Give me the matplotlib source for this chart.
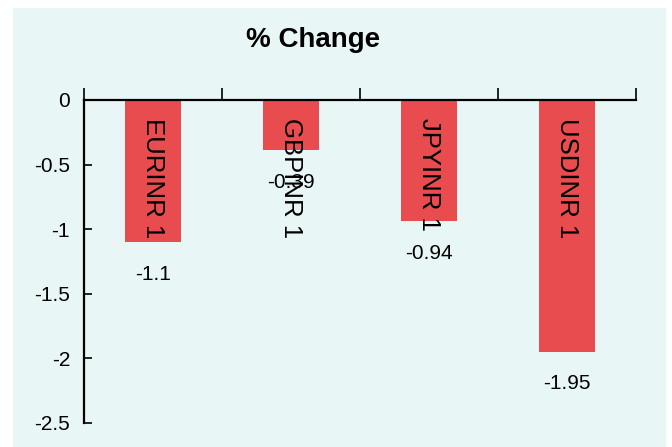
import matplotlib
matplotlib.use("Agg")
import matplotlib.pyplot as plt
from matplotlib.patches import Rectangle

# datos
pares = ["EURINR 1", "GBPINR 1", "JPYINR 1", "USDINR 1"]
cambios = [-1.1, -0.39, -0.94, -1.95]
etiquetas_valor = ["-1.1", "-0.39", "-0.94", "-1.95"]
yticks = [0, -0.5, -1, -1.5, -2, -2.5]
ytick_labels = ["0", "-0.5", "-1", "-1.5", "-2", "-2.5"]

plt.rcParams["font.family"] = ["Liberation Sans", "DejaVu Sans"]

fondo = "#E8F7F6"
rojo = "#E84C4E"

fig = plt.figure(figsize=(6.72, 4.47), dpi=100, facecolor="white")
# panel de fondo (deja un borde blanco a la izquierda, arriba y a la derecha)
fig.patches.append(Rectangle((13 / 672, 0), (666 - 13) / 672, 1 - 8 / 447,
                             transform=fig.transFigure, facecolor=fondo,
                             edgecolor="none", zorder=-1))

ax = fig.add_axes([84 / 672, 1 - 423 / 447, (636 - 84) / 672, (423 - 100) / 447])
ax.patch.set_alpha(0)

x = list(range(len(pares)))
ax.bar(x, cambios, width=0.41, color=rojo, zorder=2)

ax.set_xlim(-0.5, len(pares) - 0.5)
ax.set_ylim(-2.5, 0)

for s in ["right", "bottom"]:
    ax.spines[s].set_visible(False)
for s in ["left", "top"]:
    ax.spines[s].set_linewidth(1.6)

ax.xaxis.set_ticks_position("top")
ax.set_xticks([i - 0.5 for i in range(len(pares) + 1)])
ax.set_xticklabels([])
ax.tick_params(axis="x", direction="out", length=9, width=1.2)

ax.set_yticks(yticks)
ax.set_yticklabels(ytick_labels)
ax.tick_params(axis="y", direction="in", length=6, width=1.2, labelsize=15, pad=10)

for i, (nombre, v, txt) in enumerate(zip(pares, cambios, etiquetas_valor)):
    ax.annotate(nombre, (i, 0), xytext=(0, -13), textcoords="offset points",
                rotation=270, ha="center", va="top", fontsize=18.5, zorder=3)
    ax.annotate(txt, (i, v), xytext=(0, -23), textcoords="offset points",
                ha="center", va="center", fontsize=15, zorder=3)

fig.text(313 / 672, 1 - 40 / 447, "% Change", ha="center", va="center",
         fontsize=20, fontweight="bold")

fig.savefig("out.png", dpi=100, facecolor="white")
